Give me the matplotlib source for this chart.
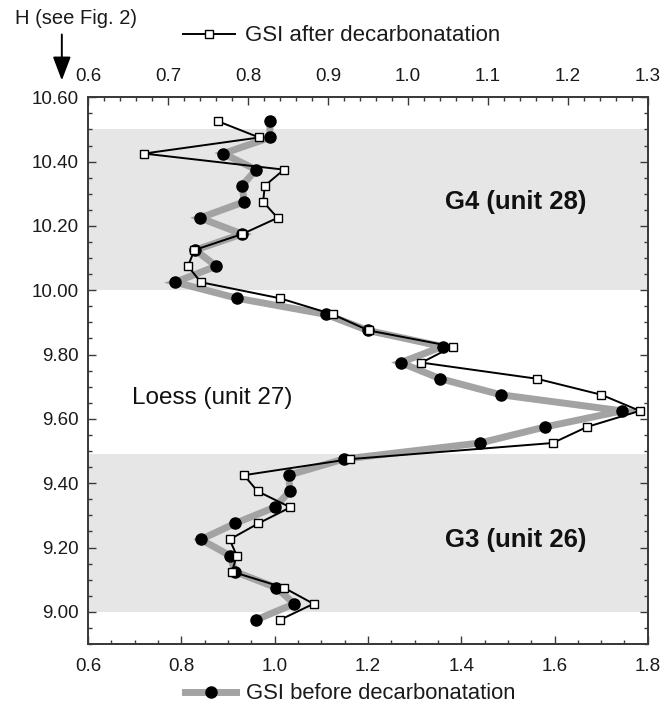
import matplotlib
matplotlib.use("Agg")
import matplotlib.pyplot as plt
from matplotlib.ticker import MultipleLocator, FormatStrFormatter
from matplotlib.lines import Line2D
from matplotlib.patches import FancyArrowPatch

plt.rcParams['font.family'] = ['Liberation Sans', 'DejaVu Sans']

# Depth H (m)
depth = [10.525, 10.475, 10.425, 10.375, 10.325, 10.275, 10.225, 10.175,
         10.125, 10.075, 10.025, 9.975, 9.925, 9.875, 9.825, 9.775,
         9.725, 9.675, 9.625, 9.575, 9.525, 9.475, 9.425, 9.375,
         9.325, 9.275, 9.225, 9.175, 9.125, 9.075, 9.025, 8.975]

# GSI before decarbonatation (bottom axis)
gsi_before = [0.99, 0.99, 0.89, 0.96, 0.93, 0.935, 0.84, 0.93,
              0.83, 0.875, 0.787, 0.92, 1.11, 1.20, 1.36, 1.27,
              1.355, 1.485, 1.745, 1.58, 1.44, 1.148, 1.03, 1.033,
              1.00, 0.915, 0.842, 0.904, 0.915, 1.004, 1.042, 0.96]

# GSI after decarbonatation (top axis)
gsi_after = [0.763, 0.814, 0.670, 0.845, 0.821, 0.819, 0.837, 0.793,
             0.733, 0.725, 0.741, 0.840, 0.906, 0.951, 1.056, 1.017,
             1.161, 1.242, 1.290, 1.224, 1.181, 0.928, 0.795, 0.812,
             0.853, 0.813, 0.777, 0.786, 0.780, 0.845, 0.882, 0.840]

bands = [(10.00, 10.50), (9.00, 9.49)]
unit_labels = [("G4 (unit 28)", 0.764, 10.273, 'bold'),
               ("Loess (unit 27)", 0.222, 9.665, 'normal'),
               ("G3 (unit 26)", 0.764, 9.223, 'bold')]

fig = plt.figure(figsize=(6.72, 7.05), dpi=100)
ax = fig.add_axes([0.131, 0.0865, 0.833, 0.7755])
ax2 = ax.twiny()

spine_c = '#3a3a3a'
text_c = '#1a1a1a'

for lo, hi in bands:
    ax.axhspan(lo, hi, color='#e6e6e6', lw=0, zorder=0)

ax.plot(gsi_before, depth, color='#a3a3a3', lw=5, marker='o', ms=8,
        mfc='black', mec='black', zorder=3, solid_joinstyle='miter')
ax2.plot(gsi_after, depth, color='black', lw=1.4, marker='s', ms=6,
         mfc='white', mec='black', mew=1.0, zorder=3)

ax.set_xlim(0.6, 1.8)
ax.set_ylim(8.9, 10.6)
ax2.set_xlim(0.6, 1.3)

ax.xaxis.set_major_locator(MultipleLocator(0.2))
ax.xaxis.set_minor_locator(MultipleLocator(0.05))
ax.xaxis.set_major_formatter(FormatStrFormatter('%.1f'))
ax.yaxis.set_major_locator(MultipleLocator(0.2))
ax.yaxis.set_minor_locator(MultipleLocator(0.05))
ax.yaxis.set_major_formatter(FormatStrFormatter('%.2f'))
ax2.xaxis.set_major_locator(MultipleLocator(0.1))
ax2.xaxis.set_minor_locator(MultipleLocator(0.02))
ax2.xaxis.set_major_formatter(FormatStrFormatter('%.1f'))

ax.tick_params(axis='both', which='both', direction='in', colors=spine_c,
               labelcolor=text_c, labelsize=13.5, width=1.0)
ax.tick_params(axis='y', which='both', right=True)
ax.tick_params(axis='x', which='major', length=6, pad=10)
ax.tick_params(axis='x', which='minor', length=3)
ax.tick_params(axis='y', which='major', length=6, pad=7)
ax.tick_params(axis='y', which='minor', length=3)
ax2.tick_params(axis='x', which='both', direction='in', colors=spine_c,
                labelcolor=text_c, labelsize=13.5, width=1.0)
ax2.tick_params(axis='x', which='major', length=6, pad=9)
ax2.tick_params(axis='x', which='minor', length=3)

for a in (ax, ax2):
    for s in a.spines.values():
        s.set_color(spine_c)
        s.set_linewidth(1.3)

for txt, xf, yv, wt in unit_labels:
    ax.text(xf, yv, txt, transform=ax.get_yaxis_transform(), ha='center',
            va='center', fontsize=18.5 if wt == 'bold' else 17.5,
            fontweight=wt, color='#111111', zorder=5)

# Legends
h_after = Line2D([], [], color='black', lw=1.4, marker='s', ms=6,
                 mfc='white', mec='black', mew=1.0)
h_before = Line2D([], [], color='#a3a3a3', lw=5, marker='o', ms=8,
                  mfc='black', mec='black')
leg1 = fig.legend([h_after], ['GSI after decarbonatation'], loc='center left',
                  bbox_to_anchor=(0.273, 0.949), frameon=False, fontsize=16,
                  handlelength=2.3, handletextpad=0.45, borderpad=0,
                  borderaxespad=0, numpoints=1)
leg2 = fig.legend([h_before], ['GSI before decarbonatation'], loc='center left',
                  bbox_to_anchor=(0.276, 0.016), frameon=False, fontsize=15.8,
                  handlelength=2.3, handletextpad=0.45, borderpad=0,
                  borderaxespad=0, numpoints=1)
for lg in (leg1, leg2):
    for t in lg.get_texts():
        t.set_color(text_c)

fig.text(0.022, 0.974, 'H (see Fig. 2)', fontsize=14.5, color=text_c,
         ha='left', va='center')
fig.add_artist(FancyArrowPatch(
    (0.092, 0.955), (0.092, 0.882), transform=fig.transFigure,
    arrowstyle='-|>,head_length=1.45,head_width=0.55', mutation_scale=10,
    color='black', lw=1.4))

fig.savefig('out.png', dpi=100)
